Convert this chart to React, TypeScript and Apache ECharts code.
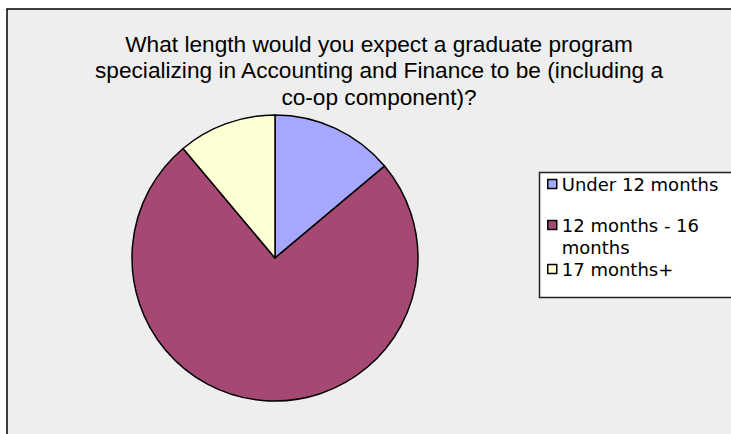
import React, { useEffect, useRef } from "react";
import * as echarts from "echarts";

const titleLines = [
  "What length would you expect a graduate program",
  "specializing in Accounting and Finance to be (including a",
  "co-op component)?",
];
const categories = ["Under 12 months", "12 months - 16 months", "17 months+"];
const values = [5, 27, 4];
const colors = ["#a6a8ff", "#a54874", "#ffffd6"];

const FONT = "DejaVu Sans";

export default function App() {
  const ref = useRef<HTMLDivElement>(null);
  useEffect(() => {
    if (!ref.current) return;
    const chart = echarts.init(ref.current, null, { renderer: "svg" });
    const legendBase = {
      orient: "vertical" as const,
      left: 547,
      padding: 0,
      itemWidth: 9,
      itemHeight: 9,
      icon: "rect",
      selectedMode: false,
      itemStyle: { borderColor: "#000", borderWidth: 1.5 },
      textStyle: { fontFamily: FONT, fontSize: 18, color: "#000", lineHeight: 22 },
    };
    chart.setOption({
      animation: false,
      backgroundColor: "#ffffff",
      graphic: [
        {
          type: "rect",
          silent: true,
          z: -10,
          shape: { x: 7, y: 9, width: 760, height: 460 },
          style: { fill: "#eeeeee", stroke: "#000", lineWidth: 1.5 },
        },
        {
          type: "rect",
          silent: true,
          z: -5,
          shape: { x: 539.5, y: 172.5, width: 220, height: 125 },
          style: { fill: "#ffffff", stroke: "#222", lineWidth: 1.5 },
        },
        {
          type: "text",
          silent: true,
          x: 379,
          y: 31,
          scaleX: 1.03,
          style: {
            text: titleLines.join("\n"),
            align: "center",
            verticalAlign: "top",
            fontFamily: "Liberation Sans",
            fontSize: 22,
            lineHeight: 26.5,
            fill: "#000",
          },
        },
      ],
      legend: [
        { ...legendBase, top: 173, data: [categories[0]] },
        {
          ...legendBase,
          top: 192,
          data: [categories[1]],
          formatter: () => "\n12 months - 16\nmonths",
        },
        { ...legendBase, top: 258, data: [categories[2]] },
      ],
      series: [
        {
          type: "pie",
          center: [275, 258],
          radius: 143,
          startAngle: 90,
          clockwise: true,
          silent: true,
          label: { show: false },
          labelLine: { show: false },
          itemStyle: { borderColor: "#000", borderWidth: 1.5 },
          data: categories.map((name, i) => ({
            name,
            value: values[i],
            itemStyle: { color: colors[i] },
          })),
        },
      ],
    });
    return () => chart.dispose();
  }, []);
  return (
    <div
      ref={ref}
      style={{ position: "fixed", left: 0, top: 0, width: 731, height: 434 }}
    />
  );
}
